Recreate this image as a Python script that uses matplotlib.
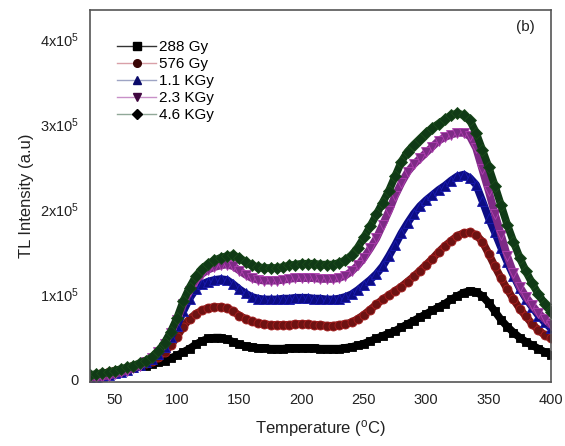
import matplotlib
matplotlib.use("Agg")
import matplotlib.pyplot as plt
from matplotlib.lines import Line2D

plt.rcParams['font.family'] = ['Liberation Sans', 'DejaVu Sans']
plt.rcParams['mathtext.default'] = 'regular'

# Temperature grid (°C)
temperature = list(range(30, 401, 5))

# TL intensity in units of 1e5 (a.u.)
gy288 = [0.04, 0.05, 0.06, 0.07, 0.08, 0.10, 0.11, 0.13, 0.15, 0.16,
         0.18, 0.20, 0.22, 0.25, 0.28, 0.32, 0.36, 0.41, 0.45, 0.48,
         0.49, 0.49, 0.47, 0.44, 0.41, 0.39, 0.38, 0.37, 0.37, 0.36,
         0.36, 0.36, 0.37, 0.37, 0.37, 0.37, 0.37, 0.36, 0.36, 0.36,
         0.36, 0.37, 0.38, 0.40, 0.42, 0.45, 0.48, 0.51, 0.54, 0.57,
         0.61, 0.65, 0.69, 0.73, 0.77, 0.81, 0.85, 0.89, 0.94, 0.98,
         1.02, 1.04, 1.03, 0.98, 0.90, 0.80, 0.70, 0.62, 0.55, 0.49,
         0.44, 0.40, 0.36, 0.32, 0.29]
gy576 = [0.04, 0.05, 0.07, 0.08, 0.10, 0.11, 0.13, 0.15, 0.17, 0.19,
         0.22, 0.26, 0.32, 0.40, 0.50, 0.62, 0.71, 0.77, 0.81, 0.84,
         0.85, 0.85, 0.84, 0.80, 0.75, 0.71, 0.68, 0.66, 0.65, 0.64,
         0.64, 0.64, 0.64, 0.65, 0.65, 0.65, 0.64, 0.64, 0.63, 0.63,
         0.64, 0.65, 0.67, 0.71, 0.76, 0.82, 0.88, 0.94, 0.99, 1.04,
         1.09, 1.15, 1.21, 1.28, 1.35, 1.42, 1.50, 1.57, 1.63, 1.69,
         1.72, 1.73, 1.70, 1.62, 1.48, 1.33, 1.19, 1.06, 0.94, 0.83,
         0.74, 0.65, 0.58, 0.52, 0.48]
kgy1_1 = [0.03, 0.03, 0.04, 0.05, 0.07, 0.09, 0.11, 0.14, 0.17, 0.20,
          0.24, 0.30, 0.38, 0.50, 0.63, 0.80, 0.95, 1.06, 1.12, 1.15,
          1.17, 1.18, 1.17, 1.12, 1.06, 1.01, 0.97, 0.95, 0.94, 0.94,
          0.94, 0.95, 0.95, 0.96, 0.96, 0.96, 0.95, 0.95, 0.94, 0.94,
          0.95, 0.97, 1.00, 1.05, 1.11, 1.17, 1.24, 1.33, 1.45, 1.58,
          1.72, 1.84, 1.95, 2.04, 2.11, 2.17, 2.23, 2.28, 2.34, 2.39,
          2.41, 2.37, 2.29, 2.10, 1.90, 1.73, 1.55, 1.38, 1.22, 1.07,
          0.95, 0.85, 0.75, 0.67, 0.60]
kgy2_3 = [0.02, 0.02, 0.03, 0.04, 0.06, 0.08, 0.10, 0.13, 0.16, 0.20,
          0.25, 0.32, 0.42, 0.55, 0.70, 0.88, 1.04, 1.16, 1.24, 1.29,
          1.32, 1.34, 1.35, 1.33, 1.28, 1.23, 1.19, 1.17, 1.16, 1.16,
          1.16, 1.17, 1.18, 1.19, 1.19, 1.19, 1.19, 1.18, 1.18, 1.18,
          1.19, 1.22, 1.27, 1.34, 1.43, 1.54, 1.66, 1.82, 1.98, 2.16,
          2.31, 2.44, 2.53, 2.60, 2.67, 2.74, 2.81, 2.85, 2.88, 2.90,
          2.90, 2.86, 2.72, 2.47, 2.22, 1.95, 1.70, 1.45, 1.25, 1.09,
          0.97, 0.87, 0.78, 0.71, 0.64]
kgy4_6 = [0.05, 0.06, 0.07, 0.08, 0.10, 0.12, 0.14, 0.16, 0.19, 0.22,
          0.26, 0.33, 0.43, 0.56, 0.72, 0.92, 1.08, 1.21, 1.30, 1.36,
          1.40, 1.43, 1.45, 1.46, 1.43, 1.38, 1.34, 1.32, 1.31, 1.31,
          1.31, 1.32, 1.34, 1.35, 1.36, 1.36, 1.36, 1.35, 1.35, 1.35,
          1.37, 1.40, 1.46, 1.55, 1.67, 1.80, 1.94, 2.08, 2.22, 2.39,
          2.56, 2.68, 2.76, 2.83, 2.90, 2.96, 3.01, 3.06, 3.11, 3.13,
          3.11, 3.05, 2.90, 2.70, 2.50, 2.28, 2.05, 1.82, 1.62, 1.43,
          1.27, 1.13, 1.00, 0.89, 0.79]

labels = ['288 Gy', '576 Gy', '1.1 KGy', '2.3 KGy', '4.6 KGy']
series = [gy288, gy576, kgy1_1, kgy2_3, kgy4_6]
markers = ['s', 'o', '^', 'v', 'D']
colors = ['#000000', '#6e1212', '#0c0c84', '#7e2a86', '#103a16']
edge_colors = ['#000000', '#a82020', '#1a1ab0', '#b040b0', '#1a4a1a']
legend_line_colors = ['#333333', '#d9a0a8', '#9ea4c4', '#c890c8', '#90a898']
legend_marker_colors = ['#000000', '#3a0505', '#0a0a6a', '#400840', '#000000']
msizes = [6, 6.5, 7, 7, 6]

fig = plt.figure(figsize=(5.65, 4.46), dpi=100)
ax = fig.add_axes([0.159, 0.144, 0.816, 0.834])

scale = 1e5
for ys, m, c, ec, ms in zip(series, markers, colors, edge_colors, msizes):
    vals = [v * scale for v in ys]
    ax.plot(temperature, vals, color=c, linewidth=5.5, marker=m,
            markersize=ms, markerfacecolor=c, markeredgecolor=ec,
            markeredgewidth=0.6, solid_capstyle='round',
            solid_joinstyle='round', zorder=2)

ax.set_xlim(30, 400)
ax.set_ylim(-3000, 4.35e5)
ax.set_xticks([50, 100, 150, 200, 250, 300, 350, 400])
yticks = [0, 1e5, 2e5, 3e5, 4e5]
ytick_labels = ['0', '1x10$^{5}$', '2x10$^{5}$', '3x10$^{5}$', '4x10$^{5}$']
ax.set_yticks(yticks)
ax.set_yticklabels(ytick_labels)
ax.tick_params(axis='both', length=0, labelsize=10.5, colors='#222222', pad=8)
for sp in ax.spines.values():
    sp.set_color('#555555')
    sp.set_linewidth(1.2)

ax.set_xlabel('Temperature ($^{o}$C)', fontsize=12, color='#222222', labelpad=8)
ax.set_ylabel('TL Intensity (a.u)', fontsize=12, color='#222222', labelpad=4)

ax.text(0.965, 0.955, '(b)', transform=ax.transAxes, fontsize=11,
        ha='right', va='center', color='#222222')

handles = [Line2D([0], [0], color=lc, linewidth=1.0, marker=m, markersize=5.5,
                  markerfacecolor=mc, markeredgecolor=mc)
           for lc, m, mc in zip(legend_line_colors, markers, legend_marker_colors)]
ax.legend(handles, labels, loc='upper left', bbox_to_anchor=(0.045, 0.935),
          frameon=False, fontsize=11, handlelength=2.6, handletextpad=0.15,
          labelspacing=0.2, borderaxespad=0)

fig.savefig('out.png', dpi=100)
